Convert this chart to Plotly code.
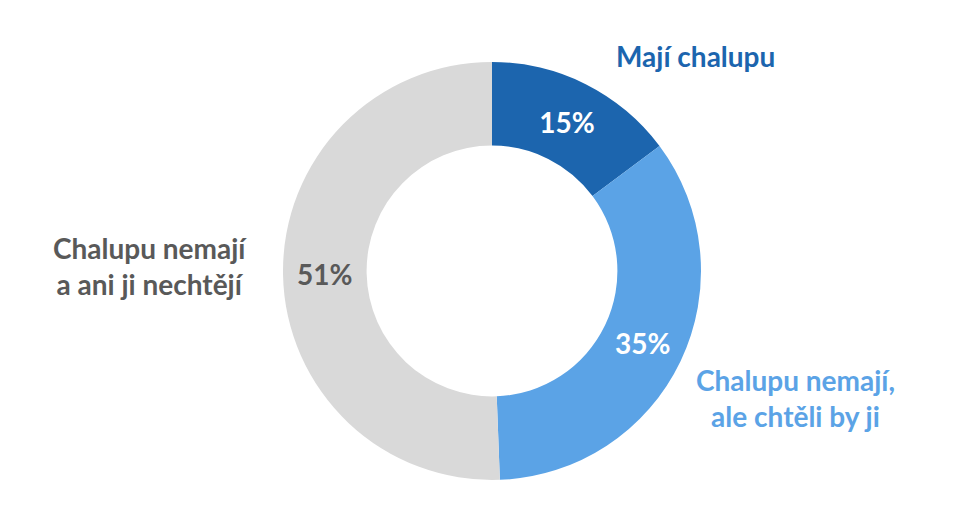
import plotly.graph_objects as go

categories = ["Mají chalupu", "Chalupu nemají, ale chtěli by ji", "Chalupu nemají a ani ji nechtějí"]
values = [14.8, 34.6, 50.6]
value_labels = ["15%", "35%", "51%"]
colors = ["#1C65AE", "#5BA3E6", "#D9D9D9"]
text_colors = ["#FFFFFF", "#FFFFFF", "#595959"]

W, H = 956, 527
OFF = 8  # page body margin
cx, cy, r = 492 - OFF, 271 - OFF, 209

fig = go.Figure(go.Pie(
    labels=categories,
    values=values,
    text=value_labels,
    textinfo="text",
    textposition="inside",
    insidetextorientation="horizontal",
    sort=False,
    direction="clockwise",
    rotation=0,
    hole=0.6,
    marker=dict(colors=colors, line=dict(width=0)),
    textfont=dict(family="Lato", size=28, color=text_colors, weight="bold"),
    domain=dict(x=[(cx - r) / W, (cx + r) / W], y=[(H - cy - r) / H, (H - cy + r) / H]),
    showlegend=False,
    hoverinfo="label+percent",
))

def px(x, y):
    return (x - OFF) / W, (H - (y - OFF)) / H

ann = [
    ("Mají chalupu", 695, 56, colors[0]),
    ("Chalupu nemají,<br>ale chtěli by ji", 795, 398, colors[1]),
    ("Chalupu nemají<br>a ani ji nechtějí", 150, 266, "#595959"),
]
for txt, x, y, c in ann:
    ax, ay = px(x, y)
    fig.add_annotation(
        x=ax, y=ay, xref="paper", yref="paper", text=txt, showarrow=False,
        xanchor="center", yanchor="middle", align="center",
        font=dict(family="Lato", size=28, color=c, weight="bold"),
    )

fig.update_layout(
    width=W, height=H,
    margin=dict(l=0, r=0, t=0, b=0),
    paper_bgcolor="white", plot_bgcolor="white",
)
fig.write_html("out.html")
